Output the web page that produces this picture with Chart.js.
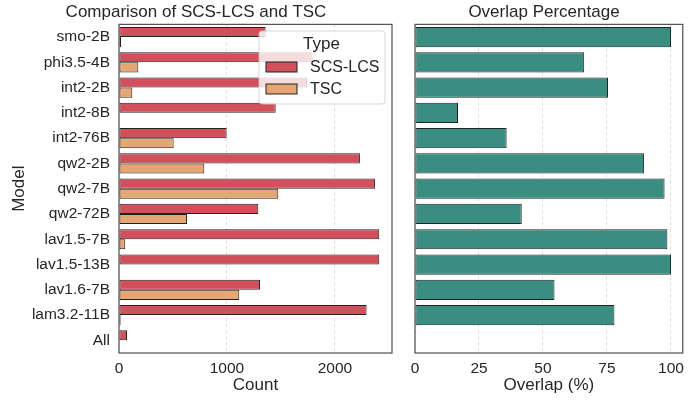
<!DOCTYPE html>
<html>
<head>
<meta charset="utf-8">
<script src="https://cdn.jsdelivr.net/npm/chart.js@4"></script>
<style>
  html, body { margin:0; padding:0; background:#fff; }
  #wrap { position:relative; width:690px; height:401px; }
  #c1 { position:absolute; left:0; top:0; }
  #c2 { position:absolute; left:400px; top:0; }
</style>
</head>
<body>
<div id="wrap">
  <canvas id="c1" width="400" height="401"></canvas>
  <canvas id="c2" width="290" height="401"></canvas>
</div>
<script>
const models = ['smo-2B','phi3.5-4B','int2-2B','int2-8B','int2-76B','qw2-2B','qw2-7B','qw2-72B','lav1.5-7B','lav1.5-13B','lav1.6-7B','lam3.2-11B','All'];
const scsLcs = [1358, 1793, 1741, 1451, 997, 2231, 2370, 1290, 2410, 2410, 1306, 2293, 74];
const tsc = [20, 179, 123, 4, 506, 790, 1475, 630, 58, 4, 1114, 15, 0];
const overlap = [100, 66.1, 75.4, 16.8, 35.8, 89.5, 97.5, 41.7, 98.6, 100, 54.5, 77.9, null];
const countTicks = [0, 1000, 2000];
const overlapTicks = [0, 25, 50, 75, 100];

const FONT = "'Liberation Sans', Arial, sans-serif";
const TXT = '#262626';
const RED = '#d2505b';
const ORANGE = '#e4a673';
const TEAL = '#3a8e81';

Chart.defaults.font.family = FONT;
Chart.defaults.color = TXT;

const framePlugin = {
  id: 'frame',
  afterDatasetsDraw(chart) {
    const a = chart.chartArea, ctx = chart.ctx;
    ctx.save();
    ctx.strokeStyle = '#555555';
    ctx.lineWidth = 1.25;
    ctx.strokeRect(a.left, a.top, a.right - a.left, a.bottom - a.top);
    ctx.restore();
  }
};

const legendPlugin = {
  id: 'customLegend',
  afterDraw(chart) {
    const ctx = chart.ctx;
    ctx.save();
    const x = 259, y = 31, w = 126, h = 73, r = 3;
    ctx.beginPath();
    ctx.moveTo(x + r, y);
    ctx.arcTo(x + w, y, x + w, y + h, r);
    ctx.arcTo(x + w, y + h, x, y + h, r);
    ctx.arcTo(x, y + h, x, y, r);
    ctx.arcTo(x, y, x + w, y, r);
    ctx.closePath();
    ctx.fillStyle = 'rgba(255,255,255,0.8)';
    ctx.fill();
    ctx.strokeStyle = 'rgba(204,204,204,0.8)';
    ctx.lineWidth = 1;
    ctx.stroke();
    ctx.fillStyle = TXT;
    ctx.font = "17px " + FONT;
    ctx.textAlign = 'center';
    ctx.textBaseline = 'middle';
    ctx.fillText('Type', 321.5, 44);
    const items = [['SCS-LCS', RED, 62], ['TSC', ORANGE, 84]];
    ctx.textAlign = 'left';
    ctx.font = "16px " + FONT;
    for (const [lab, col, yy] of items) {
      ctx.fillStyle = col;
      ctx.fillRect(266, yy, 31, 10);
      ctx.strokeStyle = '#222';
      ctx.lineWidth = 1;
      ctx.strokeRect(266, yy, 31, 10);
      ctx.fillStyle = TXT;
      ctx.fillText(lab, 310, yy + 5.5);
    }
    ctx.restore();
  }
};

const plain = v => String(v);

new Chart(document.getElementById('c1'), {
  type: 'bar',
  data: {
    labels: models,
    datasets: [
      { label: 'SCS-LCS', data: scsLcs, backgroundColor: RED, borderColor: '#222', borderWidth: 1, borderSkipped: false, categoryPercentage: 0.8, barPercentage: 1.0 },
      { label: 'TSC', data: tsc, backgroundColor: ORANGE, borderColor: '#222', borderWidth: 1, borderSkipped: false, categoryPercentage: 0.8, barPercentage: 1.0 }
    ]
  },
  options: {
    indexAxis: 'y',
    responsive: false,
    animation: false,
    devicePixelRatio: 1,
    layout: { padding: { left: 0, right: 8, top: 0, bottom: 0 } },
    plugins: {
      legend: { display: false },
      tooltip: { enabled: false },
      title: { display: true, text: 'Comparison of SCS-LCS and TSC', font: { size: 17, weight: 'normal' }, color: TXT, padding: { top: 2, bottom: 2 } }
    },
    scales: {
      x: {
        min: 0, max: 2528,
        afterBuildTicks(s) { s.ticks = countTicks.map(v => ({ value: v })); },
        afterFit(s) { s.height = 48; },
        ticks: { font: { size: 15.5 }, color: TXT, padding: 6, callback: plain },
        grid: { color: '#dddddd', drawTicks: false },
        border: { display: false, dash: [3, 3] },
        title: { display: true, text: 'Count', font: { size: 17 }, color: TXT, padding: 5 }
      },
      y: {
        afterFit(s) { s.width = 119; },
        ticks: { font: { size: 15.5 }, color: TXT, padding: 9 },
        grid: { display: false, drawTicks: false },
        border: { display: false },
        title: { display: true, text: 'Model', font: { size: 17 }, color: TXT, padding: 9 }
      }
    }
  },
  plugins: [framePlugin, legendPlugin]
});

new Chart(document.getElementById('c2'), {
  type: 'bar',
  data: {
    labels: models,
    datasets: [
      { label: 'Overlap', data: overlap, backgroundColor: TEAL, borderColor: '#222', borderWidth: 1, borderSkipped: false, categoryPercentage: 0.8, barPercentage: 1.0 }
    ]
  },
  options: {
    indexAxis: 'y',
    responsive: false,
    animation: false,
    devicePixelRatio: 1,
    layout: { padding: { left: 0, right: 2, top: 0, bottom: 0 } },
    plugins: {
      legend: { display: false },
      tooltip: { enabled: false },
      title: { display: true, text: 'Overlap Percentage', font: { size: 17, weight: 'normal' }, color: TXT, padding: { top: 2, bottom: 2 } }
    },
    scales: {
      x: {
        min: 0, max: 104.6,
        afterBuildTicks(s) { s.ticks = overlapTicks.map(v => ({ value: v })); },
        afterFit(s) { s.height = 48; },
        ticks: { font: { size: 15.5 }, color: TXT, padding: 6, callback: plain },
        grid: { color: '#dddddd', drawTicks: false },
        border: { display: false, dash: [3, 3] },
        title: { display: true, text: 'Overlap (%)', font: { size: 17 }, color: TXT, padding: 5 }
      },
      y: {
        afterFit(s) { s.width = 15; },
        ticks: { display: false },
        grid: { display: false, drawTicks: false },
        border: { display: false }
      }
    }
  },
  plugins: [framePlugin]
});
</script>
</body>
</html>
